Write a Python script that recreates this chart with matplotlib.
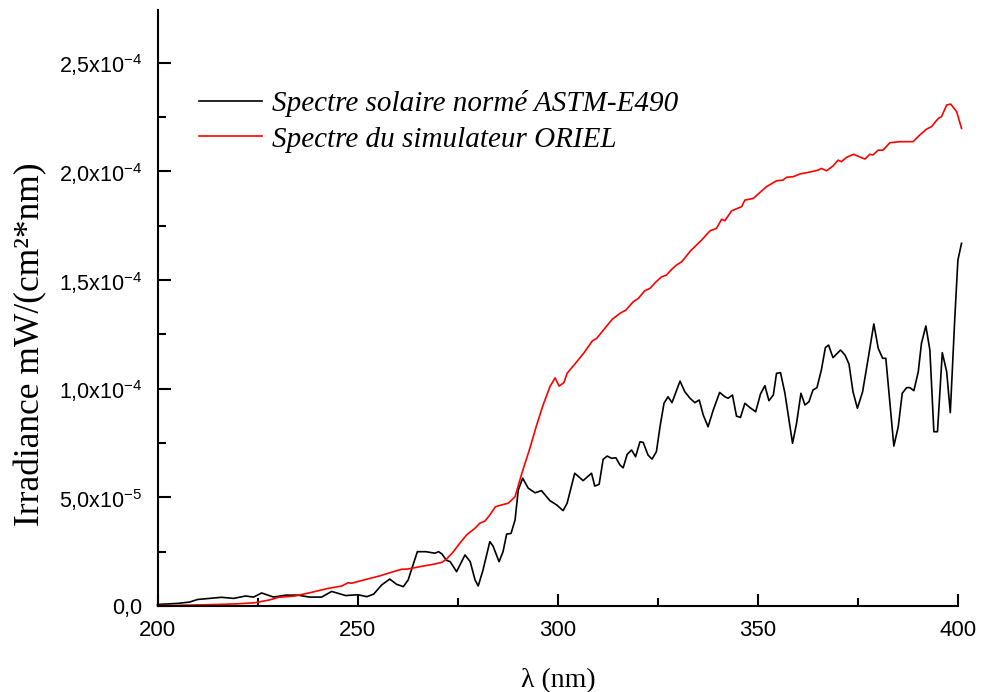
import matplotlib
matplotlib.use("Agg")
import matplotlib.pyplot as plt
from matplotlib.ticker import FuncFormatter, MultipleLocator
import numpy as np

plt.rcParams["font.family"] = "Liberation Sans"
plt.rcParams["mathtext.fontset"] = "custom"
plt.rcParams["mathtext.rm"] = "Liberation Sans"
plt.rcParams["mathtext.default"] = "regular"

# ASTM-E490 reference spectrum (irradiance in units of 1e-4 mW/(cm2*nm))
astm_nm = [200, 205, 208, 210, 213, 216, 219, 222, 224, 226, 229, 232, 235, 238, 241,
           243.5, 247, 250, 252.3, 254, 256, 258, 259.7, 261.4, 262.6, 264.9, 267,
           269.3, 270.2, 271, 272.2, 273.1, 274.7, 276.8, 278.1, 279.3, 280.1, 281.3,
           283, 283.8, 285.3, 286.3, 287.2, 288.3, 289.3, 290.1, 291.2, 292.6, 294.3,
           295.9, 298, 299.7, 301.3, 302.3, 304.2, 306.3, 308.4, 309.2, 310.3, 311.3,
           312.3, 313.4, 314.5, 315.5, 316.3, 317.3, 318.4, 319.4, 320.5, 321.3, 322.5,
           323.5, 324.6, 325.5, 326.5, 327.5, 328.5, 329.5, 330.5, 331.7, 333, 334.2,
           335.3, 336.3, 337.5, 338.8, 340.4, 341.7, 342.5, 343.6, 344.6, 345.6, 346.7,
           347.9, 349.4, 350.6, 351.7, 352.7, 353.8, 354.6, 355.6, 356.7, 358.6, 359.6,
           360.7, 361.7, 362.7, 363.7, 364.7, 365.8, 366.8, 367.6, 368.7, 370.6, 371.7,
           372.7, 373.7, 374.8, 376.1, 377.5, 378.9, 380, 381.1, 381.9, 383.9, 385,
           386, 387.1, 387.9, 388.9, 390, 390.8, 391.9, 392.9, 393.9, 394.8, 396,
           397.1, 398, 399.1, 399.9, 400.8]
astm_irr = [0.007, 0.012, 0.018, 0.03, 0.035, 0.04, 0.035, 0.046, 0.041, 0.06, 0.041,
            0.05, 0.05, 0.041, 0.041, 0.067, 0.048, 0.052, 0.043, 0.055, 0.097, 0.124,
            0.1, 0.089, 0.12, 0.25, 0.25, 0.243, 0.25, 0.24, 0.21, 0.204, 0.158, 0.235,
            0.204, 0.12, 0.092, 0.166, 0.296, 0.276, 0.204, 0.25, 0.331, 0.334, 0.396,
            0.534, 0.588, 0.542, 0.521, 0.531, 0.485, 0.465, 0.439, 0.473, 0.611, 0.577,
            0.611, 0.552, 0.56, 0.675, 0.69, 0.68, 0.682, 0.649, 0.636, 0.698, 0.718,
            0.687, 0.756, 0.753, 0.695, 0.676, 0.71, 0.825, 0.933, 0.963, 0.936, 0.986,
            1.035, 0.986, 0.956, 0.936, 0.948, 0.879, 0.825, 0.902, 0.983, 0.963, 0.956,
            0.971, 0.874, 0.868, 0.933, 0.914, 0.894, 0.976, 1.014, 0.945, 0.971, 1.071,
            1.074, 0.979, 0.749, 0.84, 0.979, 0.925, 0.94, 0.994, 1.005, 1.086, 1.189,
            1.201, 1.143, 1.178, 1.155, 1.114, 0.986, 0.91, 0.986, 1.14, 1.298, 1.186,
            1.14, 1.14, 0.736, 0.825, 0.979, 1.005, 1.005, 0.991, 1.078, 1.209, 1.289,
            1.178, 0.802, 0.802, 1.166, 1.078, 0.89, 1.316, 1.592, 1.669]

# ORIEL solar simulator spectrum (same units)
oriel_nm = [200, 205, 210, 215, 220, 224.3, 228, 230.2, 234.3, 238.5, 242.6, 246,
            247.6, 248.5, 252.2, 255.6, 258.9, 261, 262.5, 265.5, 268.9, 271, 272.2,
            273.9, 275.5, 277.2, 279.3, 280.5, 281.8, 283, 284.4, 285.9, 287.6, 289.3,
            291, 293, 294.7, 296.3, 298, 299.3, 300.3, 301.5, 302.3, 304.7, 306.5,
            308.6, 309.7, 312.2, 313.6, 315.5, 317, 318.8, 320.1, 321.7, 323, 324.4,
            325.9, 327.1, 328.4, 329.6, 330.9, 333.2, 335.9, 338, 339.6, 340.9, 341.7,
            343.4, 345.9, 346.7, 348.8, 352.1, 354.6, 356.2, 357.1, 358.8, 360.4, 362.1,
            363.4, 365, 365.8, 367.1, 368.7, 370, 370.8, 372.1, 373.8, 376.7, 377.9,
            378.7, 380, 381.2, 382.9, 385.4, 388.7, 390.4, 392.1, 393.3, 395, 395.8,
            397.1, 398.1, 399.6, 400.8]
oriel_irr = [0.002, 0.003, 0.005, 0.007, 0.01, 0.015, 0.028, 0.04, 0.046, 0.063, 0.081,
             0.092, 0.107, 0.105, 0.123, 0.139, 0.158, 0.169, 0.17, 0.181, 0.192, 0.201,
             0.216, 0.25, 0.289, 0.327, 0.358, 0.381, 0.391, 0.419, 0.457, 0.465, 0.473,
             0.503, 0.611, 0.726, 0.833, 0.925, 1.009, 1.05, 1.012, 1.028, 1.071, 1.124,
             1.165, 1.22, 1.232, 1.289, 1.32, 1.347, 1.362, 1.4, 1.416, 1.451, 1.462,
             1.49, 1.515, 1.523, 1.549, 1.569, 1.584, 1.636, 1.684, 1.727, 1.738, 1.78,
             1.773, 1.819, 1.838, 1.868, 1.876, 1.93, 1.957, 1.96, 1.973, 1.976, 1.988,
             1.994, 1.999, 2.006, 2.014, 2.003, 2.025, 2.052, 2.045, 2.065, 2.079, 2.057,
             2.079, 2.076, 2.098, 2.098, 2.132, 2.137, 2.137, 2.168, 2.195, 2.206, 2.244,
             2.252, 2.306, 2.31, 2.275, 2.198]

series_labels = ["Spectre solaire normé ASTM-E490", "Spectre du simulateur ORIEL"]


def sci_comma(value, _pos):
    if abs(value) < 1e-12:
        return "0,0"
    exp = int(np.floor(np.log10(abs(value)) + 1e-9))
    mant = value / 10 ** exp
    return f"{mant:.1f}".replace(".", ",") + "x10$^{" + str(exp) + "}$"


fig = plt.figure(figsize=(10.07, 6.92), dpi=100)
ax = fig.add_axes([157.5 / 1007, 86 / 692, 800.8 / 1007, 596 / 692])

ax.plot(astm_nm, np.array(astm_irr) * 1e-4, color="black", lw=1.2,
        label=series_labels[0], clip_on=False)
ax.plot(oriel_nm, np.array(oriel_irr) * 1e-4, color="#ff0000", lw=1.2,
        label=series_labels[1], clip_on=False)

ax.set_xlim(200, 400)
ax.set_ylim(0, 2.743e-4)

ax.xaxis.set_major_locator(MultipleLocator(50))
ax.xaxis.set_minor_locator(MultipleLocator(25))
ax.yaxis.set_major_locator(MultipleLocator(0.5e-4))
ax.yaxis.set_minor_locator(MultipleLocator(0.25e-4))
ax.yaxis.set_major_formatter(FuncFormatter(sci_comma))

for side in ("top", "right"):
    ax.spines[side].set_visible(False)
for side in ("left", "bottom"):
    ax.spines[side].set_linewidth(1.5)

ax.tick_params(which="both", direction="in", width=1.5, top=False, right=False)
ax.tick_params(which="major", length=9)
ax.tick_params(which="minor", length=5.5)
ax.tick_params(axis="x", labelsize=16, pad=10)
ax.tick_params(axis="y", labelsize=15.5, pad=11)

ax.set_xlabel("λ (nm)", fontfamily="Liberation Serif", fontsize=20)
ax.xaxis.set_label_coords(0.5, -0.105)
ax.set_ylabel("Irradiance mW/(cm²*nm)", fontfamily="Liberation Serif", fontsize=25.5)
ax.yaxis.set_label_coords(-0.137, 0.44)

ax.legend(prop=dict(family="Liberation Serif", style="italic", size=21),
          frameon=False, loc="upper left", bbox_to_anchor=(0.052, 0.866),
          handlelength=2.15, handletextpad=0.35, labelspacing=0.32,
          borderpad=0, borderaxespad=0)

fig.savefig("out.png", dpi=100, facecolor="white")
